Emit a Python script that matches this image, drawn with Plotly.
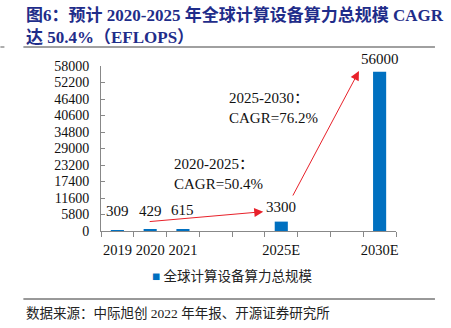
import plotly.graph_objects as go

categories = ["2019", "2020", "2021", "", "", "2025E", "", "", "2030E"]
values = [309, 429, 615, None, None, 3300, None, None, 56000]
series_name = "全球计算设备算力总规模"
y_ticks = [0, 5800, 11600, 17400, 23200, 29000, 34800, 40600, 46400, 52200, 58000]

xs = list(range(len(categories)))
bx = [x for x, v in zip(xs, values) if v is not None]
bv = [v for v in values if v is not None]
tick_x = [x for x, c in zip(xs, categories) if c]
tick_t = [c for c in categories if c]

SERIF = "Liberation Serif, Times New Roman, Noto Sans CJK SC, serif"
CJK = "Liberation Serif, Noto Sans CJK SC, serif"

# pixel helpers for paper-coordinate placement of page furniture
PL, PR, PT, PB = 100.7, 396.0, 66.0, 231.0
def px(x):
    return (x - PL) / (PR - PL)
def py(y):
    return (PB - y) / (PB - PT)

fig = go.Figure()
fig.add_trace(go.Bar(x=bx, y=bv, width=0.4, marker=dict(color="#0070C0", line=dict(width=0)),
                     name=series_name, showlegend=False))

# value labels
shifts = {309: 9, 429: 9, 615: 9, 3300: 5, 56000: 3}
for x, v in zip(bx, bv):
    fig.add_annotation(x=x, y=v, text=str(v), showarrow=False, yanchor="bottom",
                       yshift=shifts.get(v, 4), font=dict(family=SERIF, size=15, color="#111"))

# arrows
fig.add_annotation(x=4.45, y=6800, ax=0.94, ay=3270, xref="x", yref="y", axref="x", ayref="y",
                   showarrow=True, arrowhead=2, arrowsize=1.8, arrowwidth=1, arrowcolor="#E8212A", text="")
fig.add_annotation(x=7.37, y=56200, ax=5.33, ay=11950, xref="x", yref="y", axref="x", ayref="y",
                   showarrow=True, arrowhead=2, arrowsize=1.8, arrowwidth=1, arrowcolor="#E8212A", text="")

# CAGR texts
fig.add_annotation(x=1.67, y=20000, text="2020-2025：<br>CAGR=50.4%", showarrow=False, xanchor="left",
                   yanchor="middle", align="left", font=dict(family=CJK, size=15, color="#111"))
fig.add_annotation(x=3.35, y=43300, text="2025-2030：<br>CAGR=76.2%", showarrow=False, xanchor="left",
                   yanchor="middle", align="left", font=dict(family=CJK, size=15, color="#111"))

# title
fig.add_annotation(xref="paper", yref="paper", x=px(24), y=py(3), xanchor="left", yanchor="top",
                   text="<b>图6：预计 2020-2025 年全球计算设备算力总规模 CAGR<br>达 50.4%（EFLOPS）</b>",
                   showarrow=False, align="left", font=dict(family=CJK, size=17, color="#1F2D8A"))

# frame lines
fig.add_shape(type="line", xref="paper", yref="paper", x0=px(23), x1=px(435), y0=py(47), y1=py(47),
              line=dict(color="#808080", width=1.3))
fig.add_shape(type="line", xref="paper", yref="paper", x0=px(0), x1=px(4), y0=py(47), y1=py(47),
              line=dict(color="#808080", width=1.3))
fig.add_shape(type="line", xref="paper", yref="paper", x0=px(23), x1=px(435), y0=py(299), y1=py(299),
              line=dict(color="#333", width=1))

# legend (drawn as text with series colour swatch)
fig.add_annotation(xref="paper", yref="paper", x=px(150), y=py(276), xanchor="left", yanchor="middle",
                   text="<span style='color:#0070C0'>■</span> " + series_name, showarrow=False,
                   font=dict(family=CJK, size=13.5, color="#222"))

fig.add_annotation(xref="paper", yref="paper", x=px(24), y=py(313), text="数据来源：中际旭创 2022 年年报、开源证券研究所",
                   showarrow=False, xanchor="left", yanchor="middle",
                   font=dict(family=CJK, size=13.5, color="#222"))

fig.update_layout(
    width=451, height=328,
    margin=dict(l=100.7, r=55, t=66, b=97),
    paper_bgcolor="white", plot_bgcolor="white",
    showlegend=False,
)
fig.update_xaxes(range=[-0.5, 8.5], tickmode="array", tickvals=tick_x, ticktext=tick_t, ticks="",
                 showgrid=False, zeroline=False, showline=True, linecolor="#888", linewidth=1,
                 tickfont=dict(family=SERIF, size=14.5, color="#111"), ticklabelstandoff=6,
                 minor=dict(ticks="outside", tick0=-0.5, dtick=1, ticklen=5, tickcolor="#888", showgrid=False))
fig.update_yaxes(range=[0, 58000], tickmode="array", tickvals=y_ticks, ticktext=[str(t) for t in y_ticks],
                 ticks="inside", ticklen=4,
                 tickcolor="#888", showgrid=False, zeroline=False, showline=True, linecolor="#888", linewidth=1,
                 tickfont=dict(family=SERIF, size=14, color="#111"), ticklabelstandoff=8)

fig.write_html("out.html")
